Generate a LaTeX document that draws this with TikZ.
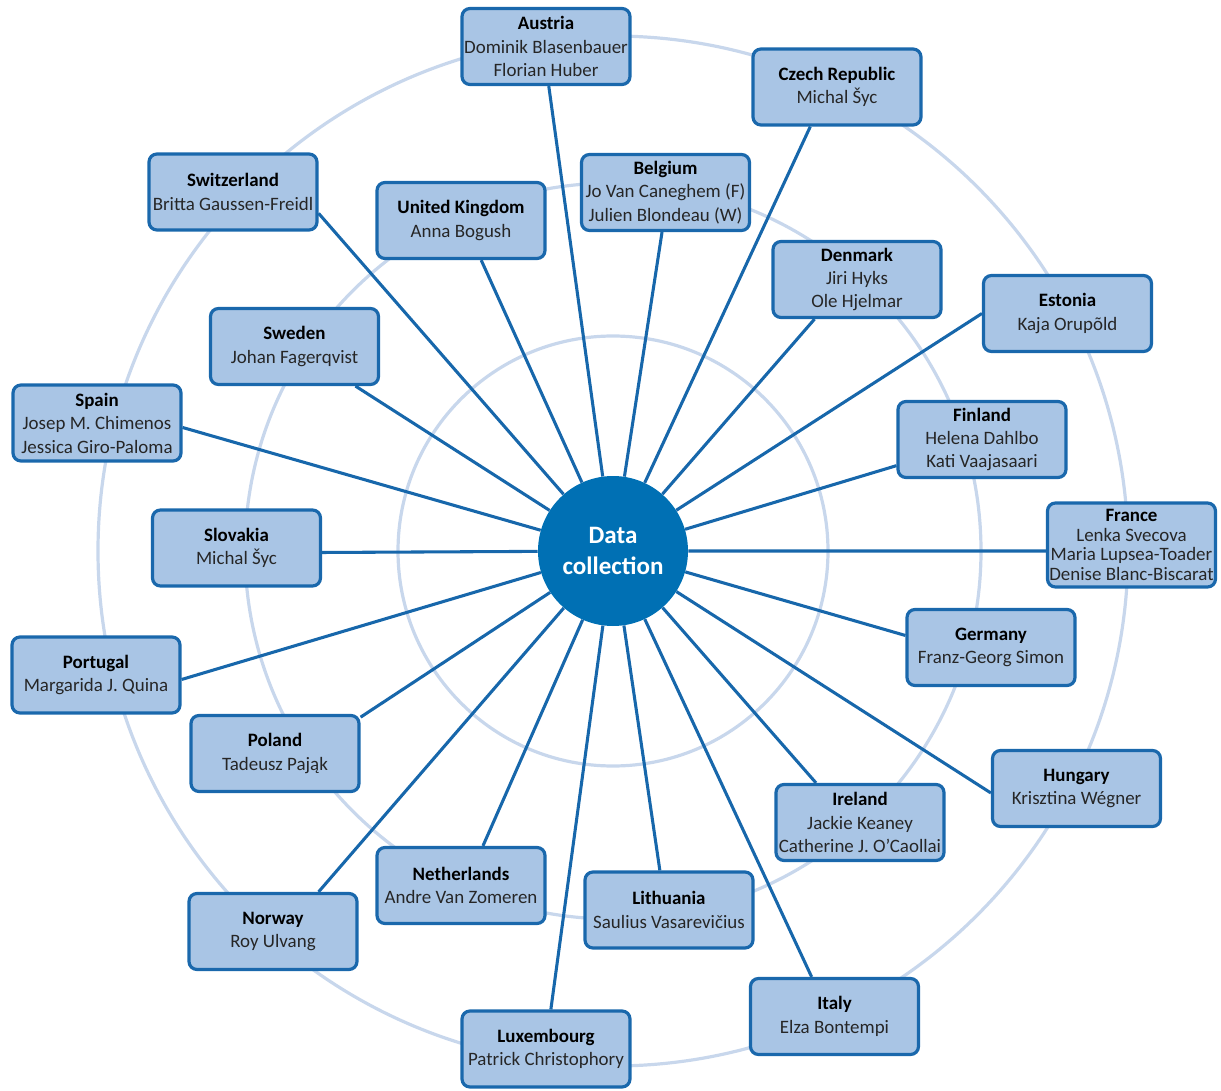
\documentclass[tikz,border=0pt]{standalone}
\usepackage{fontspec}
\setmainfont{Carlito}
\usepackage{xcolor}
\usepackage{tikz}

\definecolor{boxfill}{HTML}{A9C5E5}
\definecolor{boxdraw}{HTML}{1A68AC}
\definecolor{linkc}{HTML}{1767AB}
\definecolor{dcfill}{HTML}{0070B4}
\definecolor{ringc}{HTML}{C8D7EC}

\begin{document}
\begin{tikzpicture}[x=0.75pt,y=-0.75pt,
	ring/.style={draw=ringc,line width=2.4pt},
	link/.style={draw=linkc,line width=2.3pt},
	member/.style={draw=boxdraw,fill=boxfill,line width=2.4pt,rounded corners=6pt,
		minimum width=126pt,minimum height=57pt,inner sep=0pt,align=center,
		text=black!85,font=\fontsize{14.2pt}{17.6pt}\selectfont},
	hub/.style={circle,fill=dcfill,minimum size=112.5pt,inner sep=0pt,align=center,
		text=white,font=\bfseries\fontsize{18.8pt}{23.2pt}\selectfont}]
\useasboundingbox (0,0) rectangle (1221,1091);
% rings
\draw[ring] (613,551) circle (215);
\draw[ring] (613,551) circle (368);
\draw[ring] (613,551) circle (515);

\node[hub] (dc) at (613,551) {Data\\collection};

% partners
\node[member] (AT) at (546,46.5) {\textbf{\color{black}Austria}\\Dominik Blasenbauer\\Florian Huber};
\node[member] (CZ) at (837,87) {\textbf{\color{black}Czech Republic}\\Michal Šyc};
\node[member] (CH) at (233,192) {\textbf{\color{black}Switzerland}\\Britta Gaussen-Freidl};
\node[member] (BE) at (665.5,192.5) {\textbf{\color{black}Belgium}\\Jo Van Caneghem (F)\\Julien Blondeau (W)};
\node[member] (UK) at (461,220.5) {\textbf{\color{black}United Kingdom}\\Anna Bogush};
\node[member] (DK) at (857,279.5) {\textbf{\color{black}Denmark}\\Jiri Hyks\\Ole Hjelmar};
\node[member] (EE) at (1067.5,313.5) {\textbf{\color{black}Estonia}\\Kaja Orupõld};
\node[member] (SE) at (294.5,346.5) {\textbf{\color{black}Sweden}\\Johan Fagerqvist};
\node[member] (ES) at (97,423) {\textbf{\color{black}Spain}\\Josep M. Chimenos\\Jessica Giro-Paloma};
\node[member] (FI) at (982,439.5) {\textbf{\color{black}Finland}\\Helena Dahlbo\\Kati Vaajasaari};
\node[member] (SK) at (236.5,548) {\textbf{\color{black}Slovakia}\\Michal Šyc};
\node[member,minimum height=63pt,font=\fontsize{14.2pt}{14.6pt}\selectfont] (FR) at (1131.5,545)
	{\textbf{\color{black}France}\\Lenka Svecova\\Maria Lupsea-Toader\\Denise Blanc-Biscarat};
\node[member] (DE) at (991,647.5) {\textbf{\color{black}Germany}\\Franz-Georg Simon};
\node[member] (PT) at (96,675) {\textbf{\color{black}Portugal}\\Margarida J. Quina};
\node[member] (PL) at (275,753.5) {\textbf{\color{black}Poland}\\Tadeusz Pająk};
\node[member] (HU) at (1076.5,788.5) {\textbf{\color{black}Hungary}\\Krisztina Wégner};
\node[member] (IE) at (860,822.5) {\textbf{\color{black}Ireland}\\Jackie Keaney\\Catherine J. O’Caollai};
\node[member] (NL) at (461,885.5) {\textbf{\color{black}Netherlands}\\Andre Van Zomeren};
\node[member] (LT) at (669,910) {\textbf{\color{black}Lithuania}\\Saulius Vasarevičius};
\node[member] (NO) at (273,931.5) {\textbf{\color{black}Norway}\\Roy Ulvang};
\node[member] (IT) at (834.5,1016.5) {\textbf{\color{black}Italy}\\Elza Bontempi};
\node[member] (LU) at (546,1049) {\textbf{\color{black}Luxembourg}\\Patrick Christophory};

% spokes
\draw[link] (dc) -- (AT.-86);
\draw[link] (dc) -- (CZ.-124);
\draw[link] (dc) -- (CH.-14);
\draw[link] (dc) -- (BE.-95);
\draw[link] (dc) -- (UK.-63);
\draw[link] (dc) -- (DK.-137);
\draw[link] (dc) -- (EE.180);
\draw[link] (dc) -- (SE.-33);
\draw[link] (dc) -- (ES.-3);
\draw[link] (dc) -- (FI.-163);
\draw[link] (dc) -- (SK.-3);
\draw[link] (dc) -- (FR.-176);
\draw[link] (dc) -- (DE.172);
\draw[link] (dc) -- (PT.-3);
\draw[link] (dc) -- (PL.23);
\draw[link] (dc) -- (HU.-177);
\draw[link] (dc) -- (IE.138);
\draw[link] (dc) -- (NL.61.5);
\draw[link] (dc) -- (LT.103);
\draw[link] (dc) -- (NO.41);
\draw[link] (dc) -- (IT.120);
\draw[link] (dc) -- (LU.83);
\end{tikzpicture}
\end{document}
